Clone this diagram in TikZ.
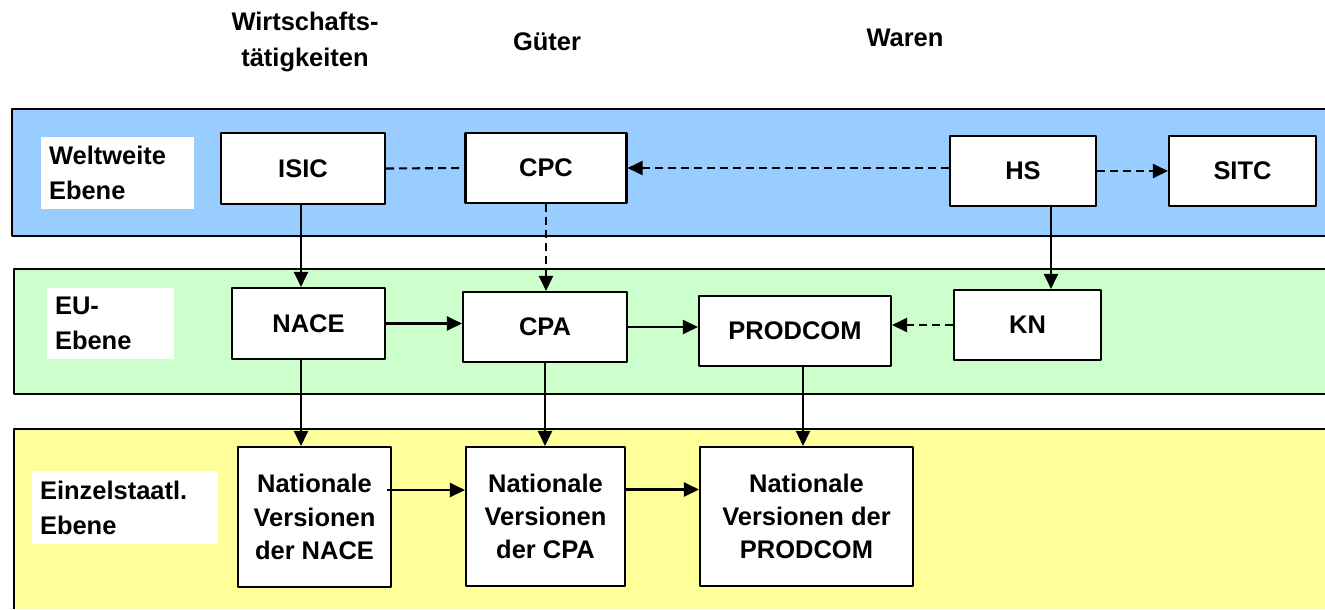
\documentclass[tikz,border=0pt]{standalone}
\usepackage{fontspec}
\setmainfont{Liberation Sans}
\usetikzlibrary{arrows.meta,positioning}
\definecolor{weltblau}{HTML}{99CCFF}
\definecolor{eugruen}{HTML}{CCFFCC}
\definecolor{natgelb}{HTML}{FFFF99}
\begin{document}
\begin{tikzpicture}[x=0.02cm,y=-0.02cm,line join=round,>={Triangle[length=0.3cm,width=0.28cm]},
  font=\fontsize{14.5}{19}\selectfont\bfseries,
  box/.style={draw,fill=white,line width=1.2pt,align=center,inner sep=0pt},
  ebene/.style={fill=white,align=left,inner xsep=0.16cm,inner ysep=0pt,font=\fontsize{14.5}{20}\selectfont\bfseries},
  pfeil/.style={->,line width=1.2pt},
  gestrichelt/.style={line width=1.2pt,dash pattern=on 0.16cm off 0.1cm}]
			\useasboundingbox (0,0) rectangle (1325,609);
			% Ebenen
			\fill[weltblau] (12,109) rectangle (1325,236);
			\fill[eugruen] (14,269) rectangle (1325,394);
			\fill[natgelb] (14,429) rectangle (1325,609);
			\draw[line width=1.2pt]
			(1325,109)--(12,109)--(12,236)--(1325,236)
			(1325,269)--(14,269)--(14,394)--(1325,394)
			(1325,429)--(14,429)--(14,609)
			;
			% Spaltenkoepfe
			\node[align=center,font=\fontsize{14.5}{20}\selectfont\bfseries] (wirt) at (305,42) {Wirtschafts-\\t\"atigkeiten};
			\node (gueter) at (547,42) {G\"uter};
			\node (waren) at (905,38) {Waren};
			% Beschriftung der Ebenen
			\node[ebene,text width=2.74cm,minimum height=1.44cm] (welt) at (117.5,173) {Weltweite\\Ebene};
			\node[ebene,text width=2.22cm,minimum height=1.42cm] (eu) at (110.5,323.5) {EU-\\Ebene};
			\node[ebene,text width=3.40cm,minimum height=1.46cm] (einz) at (125,507.5) {Einzelstaatl.\\Ebene};
			% Klassifikationen
			\node[box,minimum width=3.28cm,minimum height=1.42cm] (isic) at (303,168.5) {ISIC};
			\node[box,minimum width=3.22cm,minimum height=1.40cm] (cpc) at (546,168) {CPC};
			\node[box,minimum width=2.92cm,minimum height=1.40cm] (hs) at (1023,171) {HS};
			\node[box,minimum width=2.94cm,minimum height=1.40cm] (sitc) at (1242.5,171) {SITC};
			\node[box,minimum width=3.06cm,minimum height=1.42cm] (nace) at (308.5,323.5) {NACE};
			\node[box,minimum width=3.28cm,minimum height=1.40cm] (cpa) at (545,327) {CPA};
			\node[box,minimum width=3.84cm,minimum height=1.40cm] (prodcom) at (795,331) {PRODCOM};
			\node[box,minimum width=2.94cm,minimum height=1.40cm] (kn) at (1027.5,325) {KN};
			\node[box,minimum width=3.06cm,minimum height=2.80cm] (natnace) at (314.5,517) {Nationale\\Versionen\\der NACE};
			\node[box,minimum width=3.18cm,minimum height=2.78cm] (natcpa) at (545.5,516.5) {Nationale\\Versionen\\der CPA};
			\node[box,minimum width=4.26cm,minimum height=2.78cm] (natprodcom) at (806.5,516.5) {Nationale\\Versionen der\\PRODCOM};
			% Verbindungen
			\draw[gestrichelt] (isic.east) -- (cpc.west);
			\draw[gestrichelt,->] (hs.west |- cpc.east) -- (cpc.east);
			\draw[gestrichelt,->] (hs.east) -- (sitc.west);
			\draw[pfeil] ([xshift=-0.04cm]isic.south) -- ([xshift=-0.04cm]isic.south |- nace.north);
			\draw[gestrichelt,->] (cpc.south) -- (cpc.south |- cpa.north);
			\draw[pfeil] ([xshift=0.56cm]hs.south) -- ([xshift=0.56cm]hs.south |- kn.north);
			\draw[pfeil] (nace.east) -- (nace.east -| cpa.west);
			\draw[pfeil] (cpa.east) -- (cpa.east -| prodcom.west);
			\draw[gestrichelt,->] (kn.west) -- (kn.west -| prodcom.east);
			\draw[pfeil] ([xshift=-0.15cm]nace.south) -- ([xshift=-0.15cm]nace.south |- natnace.north);
			\draw[pfeil] (cpa.south) -- (cpa.south |- natcpa.north);
			\draw[pfeil] ([xshift=0.16cm]prodcom.south) -- ([xshift=0.16cm]prodcom.south |- natprodcom.north);
			\draw[pfeil] ([xshift=-0.1cm,yshift=0.54cm]natnace.east) -- ([yshift=0.54cm]natnace.east -| natcpa.west);
			\draw[pfeil] ([yshift=0.54cm]natcpa.east) -- ([yshift=0.54cm]natcpa.east -| natprodcom.west);
		\end{tikzpicture}
\end{document}
